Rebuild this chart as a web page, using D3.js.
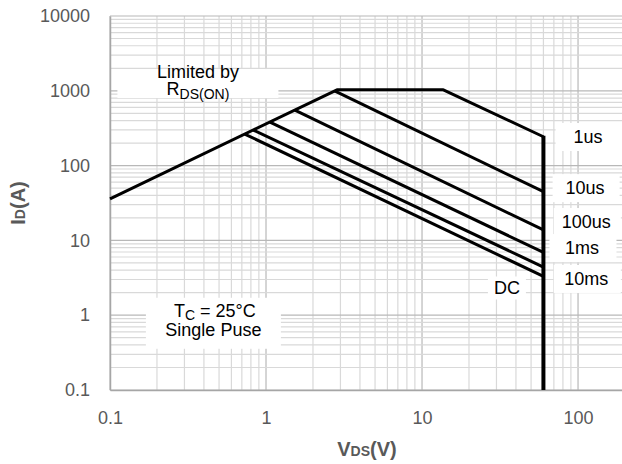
<!DOCTYPE html>
<html>
<head>
<meta charset="utf-8">
<script src="https://cdn.jsdelivr.net/npm/d3@7"></script>
<style>
  body { margin: 0; background: #fff; }
  svg { font-family: "Liberation Sans", Arial, sans-serif; }
  .tick text { fill: #595959; font-size: 18px; }
  .axis-title { fill: #595959; font-weight: bold; font-size: 20px; }
  .note { fill: #000; font-size: 18px; }
</style>
</head>
<body>
<svg width="622" height="464"></svg>
<script>
// SOA curve data (V in volts, I in amps)
var xTicks = [0.1, 1, 10, 100];
var yTicks = [0.1, 1, 10, 100, 1000, 10000];

// outer envelope: Rds(on) limit -> current limit -> 1us -> BVdss
var limitV = [0.1, 2.85, 13.7, 60];
var limitI = [36, 1030, 1030, 243];
var bvdss = 60;

// pulse lines (from Rds(on) line down to BVdss)
var pulseNames = ["10us", "100us", "1ms", "10ms", "DC"];
var pulseStartV = [2.75, 1.53, 1.06, 0.83, 0.73];
var pulseStartI = [995, 552, 382, 299, 264];
var pulseEndI = [44.8, 13.8, 6.9, 4.4, 3.3];

// curve labels: text and anchor (V, I)
var labelText = ["1us", "10us", "100us", "1ms", "10ms", "DC"];
var labelV = [116, 111, 113, 106, 113, 35];
var labelI = [241, 50, 17.6, 7.9, 3.05, 2.31];

var svg = d3.select("svg"),
    width = +svg.attr("width"),
    height = +svg.attr("height");

var x = d3.scaleLog().domain([0.1, 200]).range([110, 625]);
var y = d3.scaleLog().domain([0.1, 10000]).range([390, 16]);

var isMajor = function(d) {
    var l = Math.log10(d);
    return Math.abs(l - Math.round(l)) < 1e-9;
};

// grid
var grid = svg.append("g");
grid.selectAll(".vx")
    .data(x.ticks())
    .enter()
    .append("line")
    .attr("x1", function(d) { return x(d); })
    .attr("x2", function(d) { return x(d); })
    .attr("y1", y(10000))
    .attr("y2", y(0.1))
    .style("stroke", function(d) { return isMajor(d) ? "#b8b8b8" : "#d9d9d9"; })
    .style("stroke-width", 1.2);

grid.selectAll(".hy")
    .data(y.ticks())
    .enter()
    .append("line")
    .attr("x1", x(0.1))
    .attr("x2", width)
    .attr("y1", function(d) { return y(d); })
    .attr("y2", function(d) { return y(d); })
    .style("stroke", function(d) { return isMajor(d) ? "#b8b8b8" : "#d9d9d9"; })
    .style("stroke-width", 1.2);

// axes
svg.append("g")
    .attr("transform", "translate(0," + y(0.1) + ")")
    .call(d3.axisBottom(x).tickValues(xTicks).tickSize(0).tickPadding(21)
        .tickFormat(d3.format("~g")));
svg.append("g")
    .attr("transform", "translate(" + x(0.1) + ",0)")
    .call(d3.axisLeft(y).tickValues(yTicks).tickSize(0).tickPadding(20)
        .tickFormat(d3.format("~g")));
svg.selectAll(".domain").style("stroke", "#a6a6a6").style("stroke-width", 1.5);
svg.selectAll(".tick text").attr("font-family", null).attr("font-size", null);

// white label boxes
var boxes = [
    { cx: x(0.366), cy: y(1250), w: 161, h: 29 },
    { cx: x(0.46), cy: y(0.78), w: 135, h: 51 }
];
labelText.forEach(function(t, i) {
    if (t === "DC") boxes.push({ cx: x(labelV[i]), cy: y(labelI[i]), w: 38, h: 23 });
    else boxes.push({ cx: x(labelV[i]) + 1, cy: y(labelI[i]), w: 67, h: 28 });
});
svg.append("g").selectAll("rect")
    .data(boxes)
    .enter()
    .append("rect")
    .attr("x", function(d) { return d.cx - d.w / 2; })
    .attr("y", function(d) { return d.cy - d.h / 2; })
    .attr("width", function(d) { return d.w; })
    .attr("height", function(d) { return d.h; })
    .style("fill", "#fff");

// curves
var line = d3.line()
    .x(function(d) { return x(d[0]); })
    .y(function(d) { return y(d[1]); });

var envelope = limitV.map(function(v, i) { return [v, limitI[i]]; });
svg.append("path")
    .attr("d", line(envelope))
    .style("fill", "none")
    .style("stroke", "#000")
    .style("stroke-width", 3)
    .style("stroke-linejoin", "round");

svg.append("g").selectAll("path")
    .data(pulseNames)
    .enter()
    .append("path")
    .attr("d", function(d, i) {
        return line([[pulseStartV[i], pulseStartI[i]], [bvdss, pulseEndI[i]]]);
    })
    .style("fill", "none")
    .style("stroke", "#000")
    .style("stroke-width", 3);

svg.append("line")
    .attr("x1", x(bvdss))
    .attr("x2", x(bvdss))
    .attr("y1", y(limitI[limitI.length - 1]) - 1)
    .attr("y2", y(0.1))
    .style("stroke", "#000")
    .style("stroke-width", 4);

// labels
svg.append("g").selectAll("text")
    .data(labelText)
    .enter()
    .append("text")
    .attr("class", "note")
    .attr("x", function(d, i) { return x(labelV[i]); })
    .attr("y", function(d, i) { return y(labelI[i]); })
    .attr("dy", "0.35em")
    .attr("text-anchor", "middle")
    .text(function(d) { return d; });

// "Limited by R_DS(ON)" as one text block
var lim = svg.append("text").attr("class", "note").attr("text-anchor", "middle")
    .attr("x", x(0.366)).attr("y", 78);
lim.append("tspan").text("Limited by");
lim.append("tspan").attr("x", x(0.366)).attr("dy", 17).text("R");
lim.append("tspan").attr("font-size", "14px").attr("dy", 4).text("DS(ON)");

// "T_C = 25°C / Single Puse" as one text block
var tc = svg.append("text").attr("class", "note").attr("text-anchor", "middle")
    .attr("x", x(0.47)).attr("y", 317);
tc.append("tspan").text("T");
tc.append("tspan").attr("font-size", "14px").attr("dy", 3).text("C");
tc.append("tspan").attr("dy", -3).text(" = 25°C");
tc.append("tspan").attr("x", x(0.46)).attr("dy", 19).text("Single Puse");

// axis titles
var xt = svg.append("text").attr("class", "axis-title").attr("text-anchor", "middle")
    .attr("x", 367).attr("y", 456);
xt.append("tspan").text("V");
xt.append("tspan").attr("font-size", "14px").text("DS");
xt.append("tspan").text("(V)");

var yt = svg.append("text").attr("class", "axis-title").attr("text-anchor", "middle")
    .attr("transform", "translate(25,203) rotate(-90)");
yt.append("tspan").text("I");
yt.append("tspan").attr("font-size", "14px").text("D");
yt.append("tspan").text("(A)");
</script>
</body>
</html>
